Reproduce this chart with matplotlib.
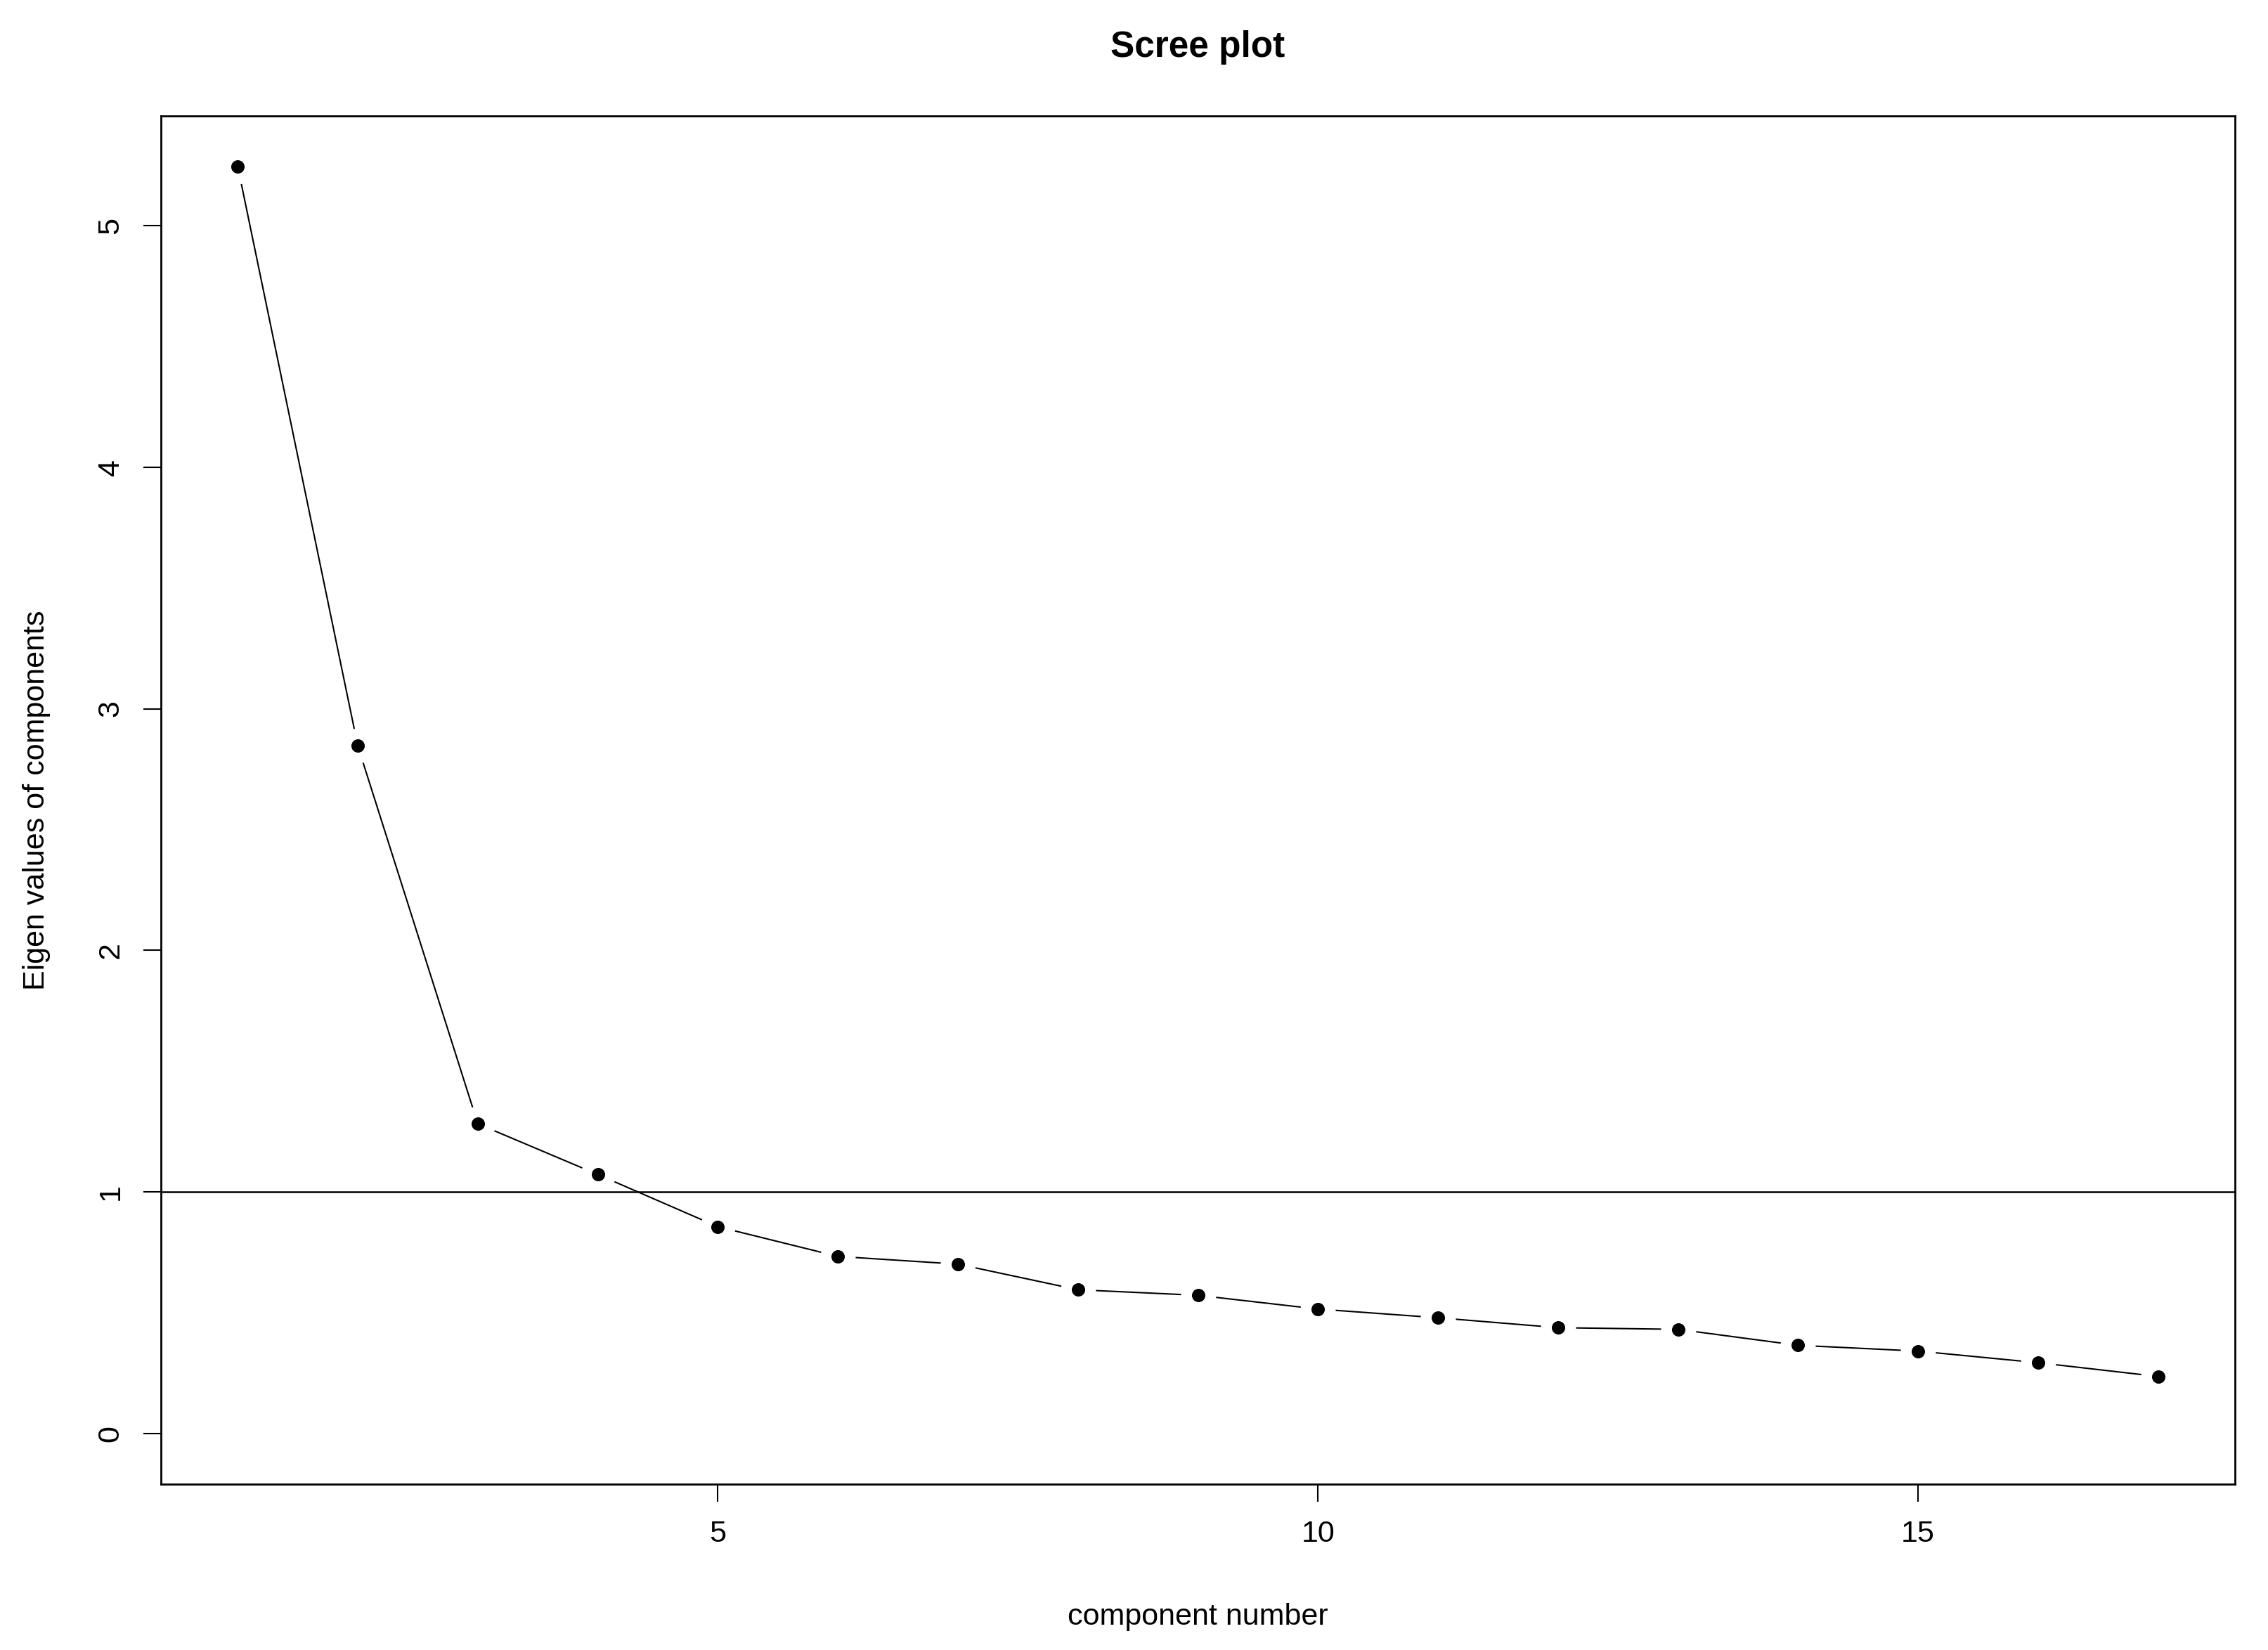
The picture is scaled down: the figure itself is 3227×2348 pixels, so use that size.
import matplotlib
matplotlib.use("Agg")
import matplotlib.pyplot as plt
import numpy as np

# ---- data ----
components = list(range(1, 18))
eigenvalues = [5.244, 2.846, 1.282, 1.072, 0.856, 0.733, 0.701, 0.595, 0.572,
               0.515, 0.479, 0.438, 0.431, 0.365, 0.341, 0.293, 0.236]
x_ticks = [5, 10, 15]
y_ticks = [0, 1, 2, 3, 4, 5]
ref_line = 1
title = "Scree plot"
x_label = "component number"
y_label = "Eigen values of components"

plt.rcParams['font.family'] = ['Liberation Sans', 'DejaVu Sans']

W, H, DPI = 3227, 2348, 100
fig = plt.figure(figsize=(W / DPI, H / DPI), dpi=DPI)
left, right, top, bottom = 229, 3180, 165, 2112
ax = fig.add_axes([left / W, 1 - bottom / H, (right - left) / W, (bottom - top) / H])

lw = 1.5
# line (type = "b" in R: gaps around points)
ax.plot(components, eigenvalues, color='black', lw=lw, zorder=2)
ax.plot(components, eigenvalues, linestyle='none', marker='o', ms=36,
        mfc='white', mec='none', zorder=3)
ax.plot(components, eigenvalues, linestyle='none', marker='o', ms=13.7,
        mfc='black', mec='none', zorder=4)
ax.axhline(ref_line, color='black', lw=1.8, zorder=5)

# R-style limits (4% extension)
xr = max(components) - min(components)
ax.set_xlim(min(components) - 0.04 * xr, max(components) + 0.04 * xr)
yr = max(eigenvalues) - 0
ax.set_ylim(0 - 0.04 * yr, max(eigenvalues) + 0.04 * yr)

ax.set_xticks(x_ticks)
ax.set_xticklabels([str(v) for v in x_ticks])
ax.set_yticks(y_ticks)
ax.set_yticklabels([str(v) for v in y_ticks], rotation=90, va='center')
ax.tick_params(axis='both', length=18, width=1.5, labelsize=31, color='black')
ax.tick_params(axis='x', pad=19)
ax.tick_params(axis='y', pad=19)
for s in ax.spines.values():
    s.set_linewidth(2)
    s.set_color('black')

cx = (left + right) / 2 / W
fig.text(cx, 1 - 81 / H, title, ha='center', va='baseline', fontsize=37, fontweight='bold')
fig.text(cx, 1 - 2312 / H, x_label, ha='center', va='baseline', fontsize=31)
fig.text(63 / W, 1 - ((top + bottom) / 2) / H, y_label, ha='center', va='baseline',
         rotation=90, rotation_mode='anchor', fontsize=31)

fig.savefig("out.png", dpi=DPI, facecolor='white')
